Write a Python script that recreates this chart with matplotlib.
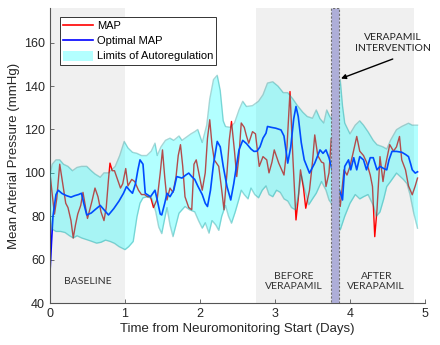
import matplotlib
matplotlib.use("Agg")
import matplotlib.pyplot as plt
from matplotlib.patches import Patch
from matplotlib.lines import Line2D
import numpy as np

plt.rcParams['font.family'] = ['Liberation Sans', 'DejaVu Sans']

# ---- data ----
map_days = [0.00, 0.03, 0.06, 0.09, 0.13, 0.17, 0.21, 0.24, 0.28, 0.31, 0.34, 0.37, 0.41, 0.44,
            0.47, 0.50, 0.53, 0.56, 0.60, 0.64, 0.68, 0.72, 0.75, 0.78, 0.80, 0.83, 0.86, 0.90,
            0.94, 0.97, 1.01, 1.04, 1.09, 1.13, 1.18, 1.22, 1.26, 1.30, 1.34, 1.38, 1.43, 1.47,
            1.50, 1.53, 1.56, 1.60, 1.64, 1.68, 1.71, 1.74, 1.77, 1.80, 1.85, 1.89, 1.92, 1.95,
            1.99, 2.03, 2.07, 2.10, 2.13, 2.16, 2.19, 2.25, 2.29, 2.32, 2.36, 2.39, 2.42, 2.46,
            2.49, 2.52, 2.55, 2.59, 2.62, 2.65, 2.70, 2.74, 2.79, 2.84, 2.89, 2.92, 2.96, 2.99,
            3.05, 3.12, 3.16, 3.20, 3.24, 3.28, 3.31, 3.34, 3.38, 3.41, 3.46, 3.50, 3.53, 3.57,
            3.62, 3.65, 3.68, 3.72, 3.75, 3.79, 3.83, 3.87, 3.92, 3.96, 4.00, 4.04, 4.09, 4.13,
            4.18, 4.22, 4.27, 4.30, 4.33, 4.36, 4.40, 4.44, 4.47, 4.53, 4.58, 4.62, 4.66, 4.69,
            4.74, 4.78, 4.83, 4.87, 4.90]
map_vals = [100, 90, 81, 88, 104, 95, 86, 84, 78, 70, 76, 81, 85, 91,
            85, 79, 83, 87, 93, 89, 82, 78, 84, 97, 104.5, 101, 101, 97,
            93, 95, 102, 94, 97, 96, 92, 90, 90, 89, 89, 84, 88, 100,
            110.6, 98, 87.5, 93, 91, 98, 108, 113, 103, 89, 84, 83, 104, 106,
            99, 92, 100, 116, 124.5, 113, 106, 103, 92, 83, 100, 115, 123.7, 110,
            98.3, 108, 123, 121, 117, 113.7, 119, 118, 103, 107.5, 106, 100, 105, 110.6,
            104.5, 99, 112, 137.5, 106, 78.3, 88, 101.4, 93, 83.7, 92, 105, 117.5, 108,
            105, 104.5, 93.7, 100, 116, 110, 95, 84.5, 101.4, 99, 103, 109, 116.8, 110,
            108, 105, 99, 93.7, 70.6, 83, 107.5, 96, 103, 113, 110, 112, 116.8, 106,
            101.4, 94, 89.9, 94, 97.6]

opt_days = [0.00, 0.02, 0.04, 0.08, 0.11, 0.16, 0.22, 0.28, 0.33, 0.38, 0.42, 0.45, 0.49, 0.55,
            0.60, 0.67, 0.72, 0.78, 0.85, 0.92, 0.98, 1.02, 1.06, 1.10, 1.14, 1.17, 1.20, 1.24,
            1.27, 1.34, 1.40, 1.43, 1.47, 1.49, 1.53, 1.56, 1.60, 1.65, 1.69, 1.76, 1.81, 1.85,
            1.89, 1.93, 1.97, 2.03, 2.07, 2.10, 2.14, 2.18, 2.23, 2.27, 2.31, 2.36, 2.41, 2.45,
            2.49, 2.52, 2.57, 2.62, 2.68, 2.72, 2.76, 2.80, 2.84, 2.88, 2.90, 2.95, 3.01, 3.08,
            3.12, 3.17, 3.21, 3.25, 3.28, 3.31, 3.35, 3.39, 3.46, 3.53, 3.60, 3.64, 3.68, 3.72,
            3.75, 3.80, 3.86, 3.90, 3.93, 3.98, 4.01, 4.05, 4.09, 4.13, 4.18, 4.22, 4.27, 4.31,
            4.36, 4.40, 4.45, 4.49, 4.52, 4.56, 4.62, 4.69, 4.74, 4.78, 4.81, 4.83, 4.87, 4.90]
opt_vals = [54, 68, 80, 90, 92, 90.5, 89.5, 88.8, 89.5, 90, 90.6, 86, 80.6, 81.5,
            83, 85, 83, 80.6, 83.5, 87, 90.6, 93.7, 92, 90.6, 95, 101, 106, 104,
            90.6, 89, 92, 87.5, 81, 80.6, 86, 90.6, 89, 92, 98.3, 97.6, 99, 99.9,
            98.3, 97, 94, 90, 86, 84.5, 92, 104, 114.5, 112, 103, 93.7, 87.5, 95,
            104, 110.6, 115, 113.5, 111, 109.9, 110, 112, 116, 118.3, 121.4, 121, 120.6, 119.8,
            117, 104.5, 112, 125, 130.6, 126, 114, 106, 99.9, 104.5, 110.6, 109, 110.6, 107,
            103, 95, 92, 87.5, 103, 106, 101.4, 107, 101.4, 107.5, 106, 101.4, 107, 107,
            101.4, 103, 102, 101.4, 106, 109.9, 109.9, 109.5, 108.5, 107.5, 104, 101.4, 99.9, 100.5]

up_days = [0.00, 0.03, 0.08, 0.13, 0.18, 0.24, 0.30, 0.36, 0.42, 0.49, 0.55, 0.60, 0.67, 0.72,
           0.78, 0.87, 0.93, 0.99, 1.04, 1.10, 1.16, 1.22, 1.29, 1.35, 1.40, 1.43, 1.48, 1.54,
           1.60, 1.65, 1.72, 1.76, 1.82, 1.88, 1.93, 1.97, 2.03, 2.09, 2.13, 2.18, 2.23, 2.27,
           2.31, 2.34, 2.40, 2.46, 2.52, 2.57, 2.62, 2.70, 2.78, 2.84, 2.90, 2.97, 3.04, 3.11,
           3.17, 3.24, 3.30, 3.37, 3.43, 3.50, 3.55, 3.60, 3.65, 3.69, 3.73, 3.75, 3.80, 3.87,
           3.90, 3.93, 4.00, 4.07, 4.13, 4.18, 4.24, 4.31, 4.36, 4.44, 4.49, 4.54, 4.62, 4.69,
           4.78, 4.83, 4.90]
up_vals = [99, 104, 106, 106, 104, 103, 101, 102.5, 103, 103, 101, 99.5, 98, 100,
           100, 103, 108, 114.5, 111.5, 109.5, 109, 108, 108, 110, 113.7, 108, 112, 115,
           116, 115, 117, 115, 116.5, 118, 119, 120, 114, 122, 134, 143, 145, 138,
           124, 121.4, 121, 123, 129, 133, 130.6, 131, 133, 136, 141.4, 142, 140, 137,
           137, 134, 131, 128, 126, 125.2, 129, 125, 123, 129, 126, 125, 130, 143,
           131, 123, 118, 122, 124, 122, 119, 115, 113, 112, 111, 115, 119.9, 121.4,
           122.9, 122, 122]

lo_days = [0.00, 0.03, 0.08, 0.14, 0.20, 0.26, 0.31, 0.36, 0.42, 0.49, 0.55, 0.62, 0.68, 0.74,
           0.80, 0.86, 0.92, 1.00, 1.05, 1.11, 1.16, 1.20, 1.24, 1.30, 1.36, 1.41, 1.45, 1.49,
           1.53, 1.56, 1.60, 1.64, 1.68, 1.72, 1.80, 1.86, 1.93, 1.98, 2.03, 2.07, 2.12, 2.16,
           2.21, 2.25, 2.29, 2.34, 2.38, 2.42, 2.47, 2.52, 2.55, 2.59, 2.64, 2.68, 2.73, 2.78,
           2.83, 2.88, 2.92, 2.97, 3.02, 3.07, 3.12, 3.17, 3.22, 3.27, 3.31, 3.35, 3.39, 3.45,
           3.50, 3.55, 3.62, 3.68, 3.72, 3.75, 3.80, 3.87, 3.93, 4.00, 4.07, 4.13, 4.18, 4.24,
           4.31, 4.35, 4.40, 4.45, 4.49, 4.54, 4.62, 4.71, 4.76, 4.80, 4.85, 4.90]
lo_vals = [80, 74, 73, 73, 72.5, 71, 70, 71, 70, 69.2, 68.5, 67.6, 68, 69,
           68.4, 67.5, 66, 64.6, 66, 68.4, 79.8, 86, 88.5, 89, 88, 82, 75, 72,
           79, 84, 76, 70.6, 76, 81.4, 84.5, 83, 82, 78, 74.5, 77, 72.2, 78,
           76, 73.5, 80, 85, 80, 76.8, 82, 88, 92, 90, 88, 93, 90, 88.5,
           92, 94, 90, 89, 92, 91, 88, 87, 84, 83, 89, 99, 93, 85.3,
           88, 90.6, 96, 92, 87.5, 86, 80, 73.7, 80, 86, 90, 88, 89, 90,
           85, 80, 82, 88, 93.7, 96, 99.9, 97, 95, 90, 81.4, 74.5]

period_starts = [0.0, 2.75, 3.85]
period_ends = [1.0, 3.75, 4.85]
period_labels = ['BASELINE', 'BEFORE\nVERAPAMIL', 'AFTER\nVERAPAMIL']
interv_start, interv_end = 3.75, 3.85

# ---- figure ----
fig = plt.figure(figsize=(4.4, 3.45), dpi=100)
ax = fig.add_axes([0.1136, 0.1217, 0.8523, 0.855])

for s, e, lab in zip(period_starts, period_ends, period_labels):
    ax.axvspan(s, e, color='#f0f0f0', lw=0, zorder=0)
    ax.text((s + e) / 2, 50, lab, ha='center', va='center', fontsize=7.5,
            color='#333333', family=['Lato', 'DejaVu Sans'], linespacing=1.2)

ax.plot(map_days, map_vals, color='red', lw=1.0, zorder=2)
ax.plot(opt_days, opt_vals, color='blue', lw=1.2, zorder=2)

allx = np.union1d(up_days, lo_days)
ax.fill_between(allx, np.interp(allx, lo_days, lo_vals), np.interp(allx, up_days, up_vals),
                color='cyan', alpha=0.3, lw=0, zorder=3)
ax.plot(up_days, up_vals, color='#008b8b', alpha=0.35, lw=1.0, zorder=3)
ax.plot(lo_days, lo_vals, color='#008b8b', alpha=0.35, lw=1.0, zorder=3)

ax.axvspan(interv_start, interv_end, facecolor='#aeaed8', edgecolor='#707070',
           lw=0.8, ls=(0, (2, 1.5)), zorder=4)

ax.text(4.57, 160, 'VERAPAMIL\nINTERVENTION', ha='center', va='center', fontsize=7.5,
        color='#222222', family=['Lato', 'DejaVu Sans'], linespacing=1.3, zorder=6)
ax.annotate('', xy=(3.88, 143.5), xytext=(4.57, 152.5),
            arrowprops=dict(arrowstyle='-|>', color='black', lw=1.0,
                            mutation_scale=7, shrinkA=0, shrinkB=0), zorder=6)

ax.set_xlim(0, 5)
ax.set_ylim(40, 176)
ax.set_xticks(range(0, 6))
ax.set_yticks(range(40, 161, 20))
for sp in ['top', 'right']:
    ax.spines[sp].set_visible(False)
for sp in ['left', 'bottom']:
    ax.spines[sp].set_color('#555555')
    ax.spines[sp].set_linewidth(0.8)
ax.tick_params(direction='in', length=3, width=0.6, color='#555555',
               labelsize=9, labelcolor='#262626')
ax.set_xlabel('Time from Neuromonitoring Start (Days)', fontsize=9.5, color='#262626', labelpad=2)
ax.set_ylabel('Mean Arterial Pressure (mmHg)', fontsize=9.5, color='#262626', labelpad=3)

handles = [Line2D([], [], color='red', lw=1.2),
           Line2D([], [], color='blue', lw=1.2),
           Patch(facecolor=(0.7, 1, 1), edgecolor='none')]
leg = ax.legend(handles, ['MAP', 'Optimal MAP', 'Limits of Autoregulation'],
                loc='upper left', bbox_to_anchor=(0.027, 0.97), borderaxespad=0,
                fontsize=8, fancybox=False, framealpha=1, edgecolor='#333333',
                handlelength=2.7, handleheight=1.0, labelspacing=0.4,
                borderpad=0.3, handletextpad=0.3)
leg.get_frame().set_linewidth(0.7)
leg.set_zorder(6)

fig.savefig('out.png', dpi=100)
